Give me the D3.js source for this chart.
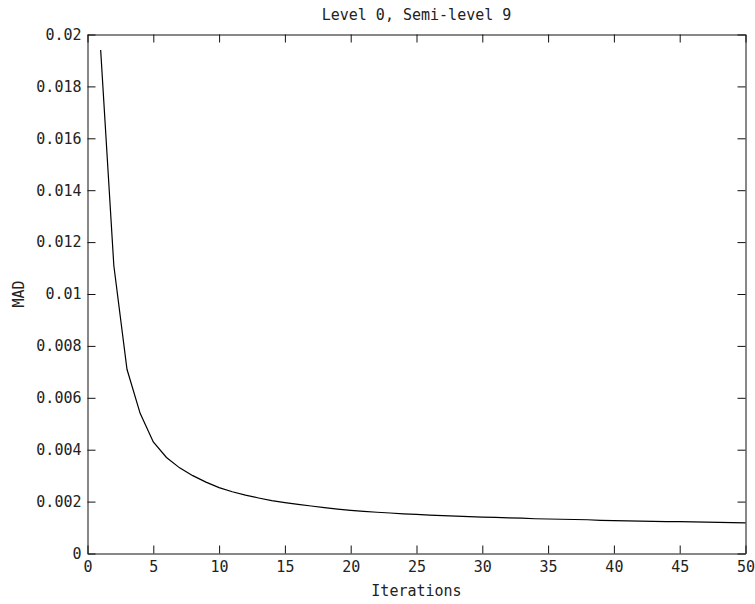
<!DOCTYPE html>
<html>
<head>
<meta charset="utf-8">
<script src="https://cdn.jsdelivr.net/npm/d3@7"></script>
<style>
  body { margin: 0; background: #fff; }
  text { font-family: "DejaVu Sans Mono", monospace; font-size: 15px; fill: #222; }
</style>
</head>
<body>
<svg id="chart"></svg>
<script>
// CANVAS
const WIDTH = 755
const HEIGHT = 604
const PLOT_LEFT = 87.5
const PLOT_RIGHT = 745.5
const PLOT_TOP = 34.5
const PLOT_BOTTOM = 553.5
const TICK_LEN = 8

// DATA
const iterations = d3.range(1, 51)
const mad = [
  0.0194, 0.0111, 0.0071, 0.0054, 0.0043, 0.0037, 0.0033, 0.00300, 0.00275, 0.00254,
  0.00238, 0.00225, 0.00214, 0.00204, 0.00196, 0.00189, 0.00183, 0.00177, 0.00171, 0.00166,
  0.00162, 0.00159, 0.00156, 0.00153, 0.00151, 0.00148, 0.00146, 0.00144, 0.00142, 0.00140,
  0.00139, 0.00137, 0.00136, 0.00134, 0.00133, 0.00132, 0.00131, 0.00130, 0.00128, 0.00127,
  0.00126, 0.00125, 0.00124, 0.00123, 0.00123, 0.00122, 0.00121, 0.00120, 0.00119, 0.00118
]
const xTicks = [0, 5, 10, 15, 20, 25, 30, 35, 40, 45, 50]
const yTicks = [0, 0.002, 0.004, 0.006, 0.008, 0.01, 0.012, 0.014, 0.016, 0.018, 0.02]

const svg = d3.select("#chart")
  .attr("width", WIDTH)
  .attr("height", HEIGHT)

const x = d3.scaleLinear().domain([0, 50]).range([PLOT_LEFT, PLOT_RIGHT])
const y = d3.scaleLinear().domain([0, 0.02]).range([PLOT_BOTTOM, PLOT_TOP])

const yFormat = d => String(+d.toFixed(3))

// bottom + top axes
svg.append("g")
  .attr("transform", `translate(0,${PLOT_BOTTOM})`)
  .call(d3.axisBottom(x).tickValues(xTicks).tickSize(-TICK_LEN).tickSizeOuter(0).tickPadding(8))
svg.append("g")
  .attr("transform", `translate(0,${PLOT_TOP})`)
  .call(d3.axisTop(x).tickValues(xTicks).tickSize(-TICK_LEN).tickSizeOuter(0).tickFormat(""))

// left + right axes
svg.append("g")
  .attr("transform", `translate(${PLOT_LEFT},0)`)
  .call(d3.axisLeft(y).tickValues(yTicks).tickSize(-TICK_LEN).tickSizeOuter(0).tickPadding(6).tickFormat(yFormat))
svg.append("g")
  .attr("transform", `translate(${PLOT_RIGHT},0)`)
  .call(d3.axisRight(y).tickValues(yTicks).tickSize(-TICK_LEN).tickSizeOuter(0).tickFormat(""))

svg.selectAll(".domain, .tick line").attr("stroke", "#111")
svg.selectAll(".tick text").attr("fill", "#222").style("font-size", "15px")
  .style("font-family", "DejaVu Sans Mono, monospace")

// curve
const line = d3.line()
  .x((d, i) => x(iterations[i]))
  .y(d => y(d))

svg.append("path")
  .datum(mad)
  .attr("d", line)
  .attr("fill", "none")
  .attr("stroke", "#000")
  .attr("stroke-width", 1.2)

// labels
svg.append("text")
  .attr("x", (PLOT_LEFT + PLOT_RIGHT) / 2)
  .attr("y", 20)
  .attr("text-anchor", "middle")
  .text("Level 0, Semi-level 9")

svg.append("text")
  .attr("x", (PLOT_LEFT + PLOT_RIGHT) / 2)
  .attr("y", 596)
  .attr("text-anchor", "middle")
  .text("Iterations")

svg.append("text")
  .attr("transform", `translate(24,${(PLOT_TOP + PLOT_BOTTOM) / 2}) rotate(-90)`)
  .attr("text-anchor", "middle")
  .text("MAD")
</script>
</body>
</html>
